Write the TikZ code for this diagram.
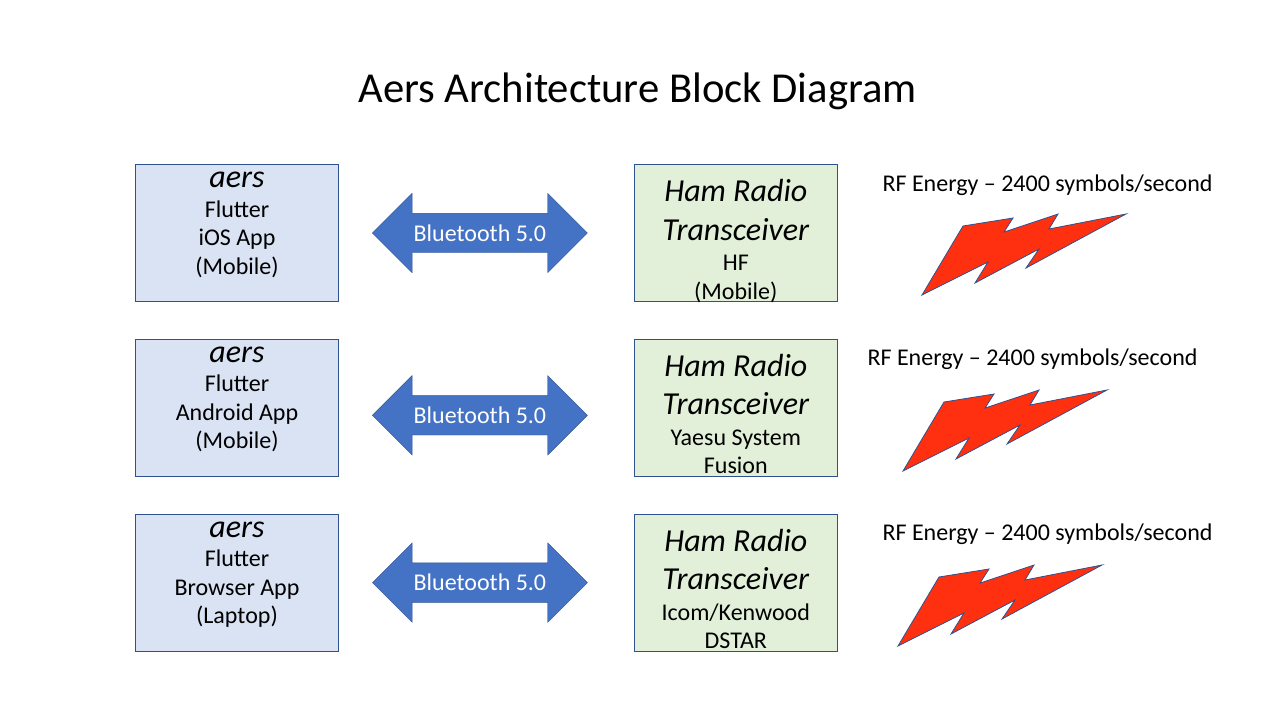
\documentclass[tikz,border=0pt]{standalone}
\usepackage{fontspec}
\setmainfont{Carlito}
\usetikzlibrary{shapes.arrows, positioning}
\definecolor{applayer}{RGB}{218,227,243}
\definecolor{radiolayer}{RGB}{226,240,217}
\definecolor{linklayer}{RGB}{68,114,196}
\definecolor{edgeblue}{RGB}{47,82,143}
\definecolor{boltred}{RGB}{255,48,16}
\newcommand{\bodyfont}{\fontsize{24}{28.5}\selectfont}
\newcommand{\nameline}[1]{{\fontsize{32}{32}\selectfont\itshape #1}}
\begin{document}
\begin{tikzpicture}[
  x=1pt, y=-1pt,
  node distance=37pt and 294.5pt,
  box/.style={
    rectangle, minimum width=203.5pt, minimum height=137pt,
    inner sep=0pt, align=center, draw=edgeblue, line width=0.8pt,
    font=\bodyfont
  },
  appbox/.style={box, fill=applayer, text height=100pt, text depth=18pt},
  radiobox/.style={box, fill=radiolayer, text height=134pt, text depth=2pt},
  linkarrow/.style={
    double arrow, double arrow head extend=20pt, minimum width=78.5pt,
    minimum height=215pt, inner xsep=0pt, inner ysep=11.5pt, text height=16pt, text depth=0pt,
    fill=linklayer, draw=edgeblue,
    line width=0.4pt, text=white, font=\bodyfont
  },
  rflabel/.style={inner sep=0pt, font=\bodyfont},
  bolt/.pic={
    \draw[fill=boltred, draw=edgeblue, line width=0.8pt, line join=miter]
      (922,295) -- (963,226) -- (1013,218) -- (1004,232) -- (1058,214)
      -- (1049,229) -- (1126,214) -- (1026,268) -- (1039,249)
      -- (975,283) -- (988,262) -- cycle;
  }
]
\useasboundingbox (0,0) rectangle (1280,720);

% ── Title ──
\node[inner sep=0pt, font=\fontsize{42.67}{44}\selectfont] (title) at (637.5,91) {Aers Architecture Block Diagram};

% ── Apps ──
\node[appbox] (ios) at (237,233) {\nameline{aers}\\[1pt]Flutter\\iOS App\\(Mobile)};
\node[appbox, below=of ios] (android) {\nameline{aers}\\[1pt]Flutter\\Android App\\(Mobile)};
\node[appbox, below=of android] (browser) {\nameline{aers}\\[1pt]Flutter\\Browser App\\(Laptop)};

% ── Radios ──
\node[radiobox, right=of ios] (hf) {\nameline{Ham Radio}\\[10pt]\nameline{Transceiver}\\[2pt]HF\\(Mobile)};
\node[radiobox, right=of android] (fusion) {\nameline{Ham Radio}\\[10pt]\nameline{Transceiver}\\[2pt]Yaesu System\\Fusion};
\node[radiobox, right=of browser] (dstar) {\nameline{Ham Radio}\\[10pt]\nameline{Transceiver}\\[2pt]Icom/Kenwood\\DSTAR};

% ── Bluetooth links ──
\node[linkarrow, right=33pt of ios] (link1) {Bluetooth 5.0};
\node[linkarrow, right=33pt of android, yshift=-7.5pt] (link2) {Bluetooth 5.0};
\node[linkarrow, right=33pt of browser] (link3) {Bluetooth 5.0};

% ── RF labels ──
\node[rflabel] (rf1) at (1047.5,185) {RF Energy – 2400 symbols/second};
\node[rflabel] (rf2) at (1032.5,359) {RF Energy – 2400 symbols/second};
\node[rflabel] (rf3) at (1047.5,534) {RF Energy – 2400 symbols/second};

% ── Bolts ──
\pic at (0,0) {bolt};
\pic at (-19,176) {bolt};
\pic at (-24,351) {bolt};

\end{tikzpicture}
\end{document}
